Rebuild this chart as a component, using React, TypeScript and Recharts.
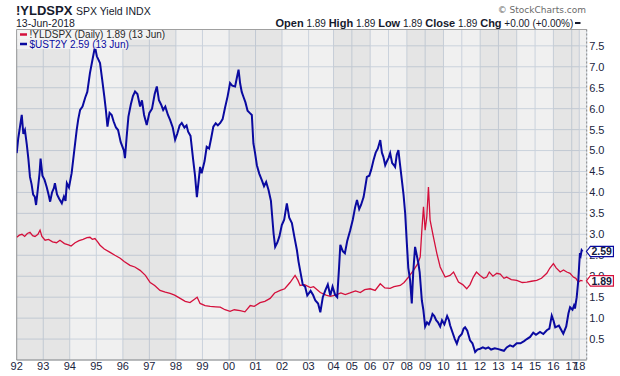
import React from 'react';
import { LineChart, Line, XAxis, YAxis, CartesianGrid, ReferenceArea, ReferenceLine } from 'recharts';

// ---------- data ----------
const firstYear = 1992;
const yearLabels = ['92','93','94','95','96','97','98','99','00','01','02','03','04','05','06','07','08','09','10','11','12','13','14','15','16','17','18'];
// data sessions stored per calendar year (the source plots one slot per stored session)
const sessionsPerYear = [365,365,365,365,365,365,365,365,365,365,365,343,252,252,252,252,252,252,252,252,252,252,252,252,252,104,102];

const yTicks = [0.5,1,1.5,2,2.5,3,3.5,4,4.5,5,5.5,6,6.5,7,7.5];
const yMax = 7.89;

const ust2yDates = [1992.00,1992.06,1992.12,1992.19,1992.25,1992.31,1992.38,1992.44,1992.50,1992.56,1992.62,1992.68,1992.73,1992.80,1992.86,1992.90,1992.97,1993.05,1993.13,1993.20,1993.26,1993.33,1993.40,1993.44,1993.52,1993.60,1993.70,1993.78,1993.84,1993.89,1993.97,1994.07,1994.16,1994.26,1994.32,1994.39,1994.48,1994.58,1994.66,1994.76,1994.85,1994.95,1995.02,1995.14,1995.22,1995.30,1995.36,1995.42,1995.50,1995.58,1995.65,1995.74,1995.82,1995.92,1996.04,1996.08,1996.14,1996.21,1996.30,1996.38,1996.46,1996.55,1996.65,1996.72,1996.80,1996.90,1997.00,1997.10,1997.20,1997.28,1997.36,1997.44,1997.52,1997.60,1997.70,1997.78,1997.88,1997.97,1998.05,1998.14,1998.22,1998.32,1998.40,1998.46,1998.55,1998.65,1998.72,1998.79,1998.86,1998.91,1998.97,1999.08,1999.16,1999.25,1999.33,1999.41,1999.50,1999.58,1999.67,1999.76,1999.85,1999.95,2000.04,2000.12,2000.23,2000.30,2000.36,2000.42,2000.48,2000.54,2000.62,2000.70,2000.78,2000.86,2000.92,2000.98,2001.05,2001.14,2001.24,2001.32,2001.40,2001.49,2001.58,2001.68,2001.74,2001.82,2001.90,2001.99,2002.08,2002.18,2002.27,2002.37,2002.46,2002.56,2002.62,2002.68,2002.78,2002.87,2002.95,2003.08,2003.18,2003.27,2003.38,2003.47,2003.57,2003.67,2003.77,2003.87,2003.96,2004.09,2004.20,2004.30,2004.37,2004.50,2004.62,2004.75,2004.91,2005.05,2005.18,2005.28,2005.40,2005.50,2005.64,2005.72,2005.82,2005.95,2006.06,2006.18,2006.30,2006.42,2006.55,2006.64,2006.72,2006.82,2006.92,2007.00,2007.09,2007.20,2007.30,2007.36,2007.45,2007.54,2007.62,2007.73,2007.82,2007.91,2008.00,2008.08,2008.18,2008.27,2008.35,2008.45,2008.52,2008.63,2008.70,2008.82,2008.90,2009.00,2009.10,2009.20,2009.30,2009.40,2009.50,2009.60,2009.70,2009.82,2009.92,2010.05,2010.20,2010.30,2010.36,2010.50,2010.62,2010.73,2010.85,2011.00,2011.10,2011.18,2011.30,2011.45,2011.58,2011.73,2011.85,2012.00,2012.15,2012.30,2012.45,2012.60,2012.80,2013.00,2013.15,2013.30,2013.45,2013.63,2013.80,2014.00,2014.20,2014.40,2014.55,2014.73,2014.90,2015.05,2015.27,2015.45,2015.64,2015.78,2015.91,2016.00,2016.10,2016.30,2016.54,2016.70,2016.82,2016.91,2017.10,2017.30,2017.43,2017.66,2017.87,2018.00,2018.09,2018.20,2018.32,2018.45];
const ust2yValues = [4.94,5.30,5.55,5.85,5.40,5.49,5.15,4.80,4.37,4.20,3.95,3.90,3.70,4.10,4.45,4.81,4.40,4.30,4.13,3.95,3.78,4.00,4.10,4.22,3.95,3.85,3.74,3.90,3.80,4.22,4.12,4.46,4.95,5.49,5.75,5.97,6.05,6.26,6.40,6.85,7.15,7.48,7.25,7.09,6.70,6.30,5.97,5.57,5.90,5.85,5.70,5.55,5.49,5.20,5.00,4.82,5.30,5.81,6.10,6.30,6.41,6.35,6.05,6.20,5.85,5.61,5.90,6.00,6.35,6.53,6.20,6.10,5.97,6.05,5.85,5.73,5.55,5.26,5.40,5.60,5.66,5.55,5.60,5.45,5.35,4.78,4.40,3.89,4.30,4.61,4.46,4.75,5.09,5.05,5.30,5.57,5.65,5.60,5.66,5.75,6.02,6.30,6.61,6.55,6.53,6.75,6.93,6.60,6.40,6.29,6.15,5.95,5.90,5.85,5.17,4.95,4.65,4.45,4.29,4.15,4.25,4.06,3.80,3.02,2.70,2.80,2.95,3.22,3.35,3.74,3.40,3.27,2.95,2.62,2.35,2.14,1.80,1.75,1.54,1.65,1.55,1.42,1.35,1.14,1.50,1.66,1.80,1.54,1.75,1.55,1.50,2.20,2.75,2.60,2.55,2.85,3.10,3.35,3.65,3.82,3.60,3.70,3.89,4.10,4.37,4.40,4.55,4.77,4.95,5.05,5.25,4.95,4.85,4.65,4.75,4.82,4.94,4.70,4.65,4.61,4.90,5.01,4.70,4.29,3.95,3.50,2.79,2.20,1.90,1.35,2.10,2.70,2.55,2.31,2.10,1.42,1.20,0.80,0.90,0.85,0.95,1.10,1.05,0.95,0.90,0.80,0.95,0.85,1.05,0.95,0.83,0.65,0.50,0.39,0.55,0.62,0.75,0.78,0.70,0.47,0.40,0.19,0.25,0.27,0.30,0.27,0.30,0.25,0.28,0.26,0.24,0.22,0.30,0.35,0.32,0.40,0.40,0.45,0.50,0.55,0.65,0.60,0.67,0.62,0.71,0.75,1.06,0.95,0.78,0.82,0.63,0.80,1.11,1.26,1.20,1.30,1.23,1.50,1.90,2.31,2.55,2.50,2.62,2.59];

const yldspxDates = [1992.00,1992.10,1992.20,1992.30,1992.40,1992.50,1992.60,1992.69,1992.80,1992.88,1992.95,1993.07,1993.20,1993.35,1993.50,1993.63,1993.80,1993.95,1994.05,1994.20,1994.35,1994.50,1994.65,1994.76,1994.85,1994.95,1995.05,1995.14,1995.30,1995.52,1995.70,1995.90,1996.05,1996.27,1996.45,1996.65,1996.85,1997.03,1997.20,1997.40,1997.60,1997.78,1997.95,1998.16,1998.35,1998.53,1998.70,1998.80,1998.91,1999.10,1999.29,1999.50,1999.67,1999.85,2000.04,2000.20,2000.42,2000.60,2000.80,2000.95,2001.17,2001.35,2001.55,2001.72,2001.93,2002.10,2002.30,2002.49,2002.60,2002.68,2002.85,2003.07,2003.20,2003.47,2003.70,2003.87,2004.10,2004.40,2004.64,2004.90,2005.20,2005.46,2005.70,2006.00,2006.27,2006.55,2006.80,2007.09,2007.30,2007.64,2007.85,2008.09,2008.36,2008.60,2008.73,2008.82,2008.91,2009.00,2009.09,2009.18,2009.27,2009.45,2009.64,2009.82,2010.09,2010.36,2010.55,2010.82,2011.05,2011.27,2011.45,2011.63,2011.80,2012.00,2012.20,2012.36,2012.50,2012.70,2012.91,2013.10,2013.30,2013.45,2013.70,2014.00,2014.30,2014.55,2014.80,2015.09,2015.35,2015.64,2015.80,2016.00,2016.15,2016.37,2016.55,2016.73,2016.91,2017.21,2017.55,2017.87,2018.19,2018.45];
const yldspxValues = [2.93,2.98,3.00,2.95,3.02,3.05,2.97,2.95,3.00,3.10,2.95,2.86,2.88,2.82,2.80,2.86,2.78,2.75,2.72,2.80,2.85,2.88,2.92,2.93,2.88,2.90,2.82,2.74,2.65,2.57,2.50,2.43,2.35,2.26,2.22,2.14,2.02,1.85,1.78,1.66,1.62,1.59,1.55,1.47,1.40,1.37,1.45,1.50,1.35,1.30,1.28,1.27,1.26,1.20,1.16,1.20,1.18,1.15,1.30,1.28,1.37,1.40,1.47,1.60,1.66,1.70,1.85,2.02,1.90,1.78,1.80,1.73,1.75,1.61,1.55,1.52,1.55,1.60,1.56,1.60,1.65,1.61,1.68,1.70,1.66,1.82,1.72,1.71,1.75,1.78,1.85,1.98,2.14,2.30,2.46,3.10,3.66,3.10,3.42,4.13,3.34,2.94,2.54,2.22,1.98,2.02,2.10,1.86,1.80,1.70,1.80,1.98,2.10,2.02,1.95,1.98,2.10,2.00,2.07,2.05,1.95,1.98,1.92,1.90,1.85,1.86,1.88,1.90,1.95,2.07,2.19,2.30,2.20,2.10,2.15,2.10,2.07,1.98,1.95,1.86,1.90,1.89];

const darkBandStarts = [1992, 1996, 2000, 2004, 2008, 2012, 2016];

// ---------- helpers ----------
const yearStart: number[] = [];
sessionsPerYear.reduce((acc, n) => { yearStart.push(acc); return acc + n; }, 0);
const totalSessions = sessionsPerYear.reduce((a, b) => a + b, 0);
const toPos = (d: number) => {
  const yi = Math.min(Math.floor(d) - firstYear, sessionsPerYear.length - 1);
  return yearStart[yi] + (d - (firstYear + yi)) * sessionsPerYear[yi];
};
const xTicks = yearStart.slice();
const tickLabel = (v: number) => {
  const i = xTicks.indexOf(v);
  return i >= 0 ? yearLabels[i] : '';
};

const ust2yData = ust2yDates.map((d, i) => ({ x: toPos(d), v: ust2yValues[i] }));
const yldspxData = yldspxDates.map((d, i) => ({ x: toPos(d), v: yldspxValues[i] }));

const FONT = 'Arial, "Liberation Sans", sans-serif';
const BLUE = '#0a0aa0';
const RED = '#d4103c';

const makeTag = (len: number, text: string, color: string) => (props: any) => {
  const { index } = props;
  const x = props.x ?? props.viewBox?.x;
  const y = props.y ?? props.viewBox?.y;
  if (index !== len - 1 || x == null || y == null) return <g />;
  const tip = x + 3.8;
  const cy = y;
  return (
    <g>
      <path
        d={`M${tip},${cy} L${tip + 4},${cy - 5.2} L${tip + 27},${cy - 5.2} L${tip + 27},${cy + 5.2} L${tip + 4},${cy + 5.2} Z`}
        fill="#ffffff"
        stroke={color}
        strokeWidth={1.2}
      />
      <text x={tip + 5} y={cy + 3.8} fontFamily={FONT} fontSize={10.5} fontWeight="bold" fill="#141a3a">{text}</text>
    </g>
  );
};

export default function App() {
  return (
    <div style={{ position: 'absolute', left: 0, top: 0, width: 620, height: 376, background: '#ffffff' }}>
      <LineChart
        width={620}
        height={376}
        margin={{ top: 29.5, right: 0, bottom: 0, left: 16.7 }}
      >
        <CartesianGrid stroke="#cad2dc" strokeWidth={1} fill="#f0f0f0" />
        {darkBandStarts.map((y) => (
          <ReferenceArea
            key={y}
            x1={toPos(y)}
            x2={toPos(Math.min(y + 2, 2018.999))}
            y1={0}
            y2={yMax}
            fill="#000000"
            fillOpacity={0.045}
            stroke="none"
          />
        ))}
        <XAxis
          type="number"
          dataKey="x"
          domain={[0, totalSessions]}
          ticks={xTicks}
          interval={0}
          tickFormatter={tickLabel}
          height={16}
          tickLine={false}
          tickSize={0}
          tickMargin={2}
          axisLine={{ stroke: '#8e8e8e' }}
          tick={{ fontFamily: FONT, fontSize: 11, fill: '#1a2540' }}
          allowDataOverflow
        />
        <YAxis
          orientation="right"
          type="number"
          domain={[0, yMax]}
          ticks={yTicks}
          interval={0}
          width={33.3}
          tickLine={false}
          tickSize={0}
          tickMargin={2.5}
          tickFormatter={(v: number) => v.toFixed(1)}
          axisLine={{ stroke: '#8a8a8a', strokeDasharray: '2 2' }}
          tick={{ fontFamily: FONT, fontSize: 11, fill: '#1a2540', textAnchor: 'start' }}
          allowDataOverflow
        />
        <ReferenceLine x={0} stroke="#999999" />
        <ReferenceLine y={yMax} stroke="#a0a0a0" />
        <Line
          data={yldspxData}
          dataKey="v"
          type="linear"
          stroke={RED}
          strokeWidth={1.3}
          dot={false}
          isAnimationActive={false}
          label={makeTag(yldspxData.length, '1.89', RED)}
        />
        <Line
          data={ust2yData}
          dataKey="v"
          type="linear"
          stroke={BLUE}
          strokeWidth={2}
          dot={false}
          isAnimationActive={false}
          label={makeTag(ust2yData.length, '2.59', BLUE)}
        />
      </LineChart>
      <svg width={620} height={52} style={{ position: 'absolute', left: 0, top: 0 }}>
        <text x={16} y={14.5} fontFamily={FONT} fontSize={13} fontWeight="bold" fill="#161a2c">!YLDSPX</text>
        <text x={76} y={14.5} fontFamily={FONT} fontSize={10.5} fill="#161a2c">SPX Yield INDX</text>
        <text x={16} y={26.5} fontFamily={FONT} fontSize={10.5} fill="#161a2c">13-Jun-2018</text>
        <text x={586} y={13} textAnchor="end" fontFamily='"DejaVu Sans", Verdana, sans-serif' fontSize={9} fill="#6a6a6a">© StockCharts.com</text>
        <text x={573.3} y={26.5} textAnchor="end" fontFamily={FONT} fill="#161a2c">
          <tspan fontWeight="bold" fontSize={11}>Open</tspan>
          <tspan fontSize={10}> 1.89 </tspan>
          <tspan fontWeight="bold" fontSize={11}> High</tspan>
          <tspan fontSize={10}> 1.89 </tspan>
          <tspan fontWeight="bold" fontSize={11}> Low</tspan>
          <tspan fontSize={10}> 1.89 </tspan>
          <tspan fontWeight="bold" fontSize={11}> Close</tspan>
          <tspan fontSize={10}> 1.89 </tspan>
          <tspan fontWeight="bold" fontSize={11}> Chg</tspan>
          <tspan fontSize={10}> +0.00 (+0.00%)</tspan>
        </text>
        <line x1={575} x2={580.5} y1={23} y2={23} stroke="#161a2c" strokeWidth={2} />
        <rect x={17.2} y={30} width={146} height={9.5} fill="#f5f5f5" fillOpacity={0.85} />
        <rect x={17.2} y={39.5} width={110} height={9.5} fill="#f5f5f5" fillOpacity={0.85} />
        <line x1={20} x2={27} y1={34.5} y2={34.5} stroke={RED} strokeWidth={2.5} />
        <text x={29.5} y={38} fontFamily={FONT} fontSize={10} fill="#2a2a2a">!YLDSPX (Daily) 1.89 (13 Jun)</text>
        <line x1={20} x2={27} y1={44} y2={44} stroke={BLUE} strokeWidth={2.5} />
        <text x={29.5} y={47.5} fontFamily={FONT} fontSize={10} fill={BLUE}>$UST2Y 2.59 (13 Jun)</text>
      </svg>
    </div>
  );
}
